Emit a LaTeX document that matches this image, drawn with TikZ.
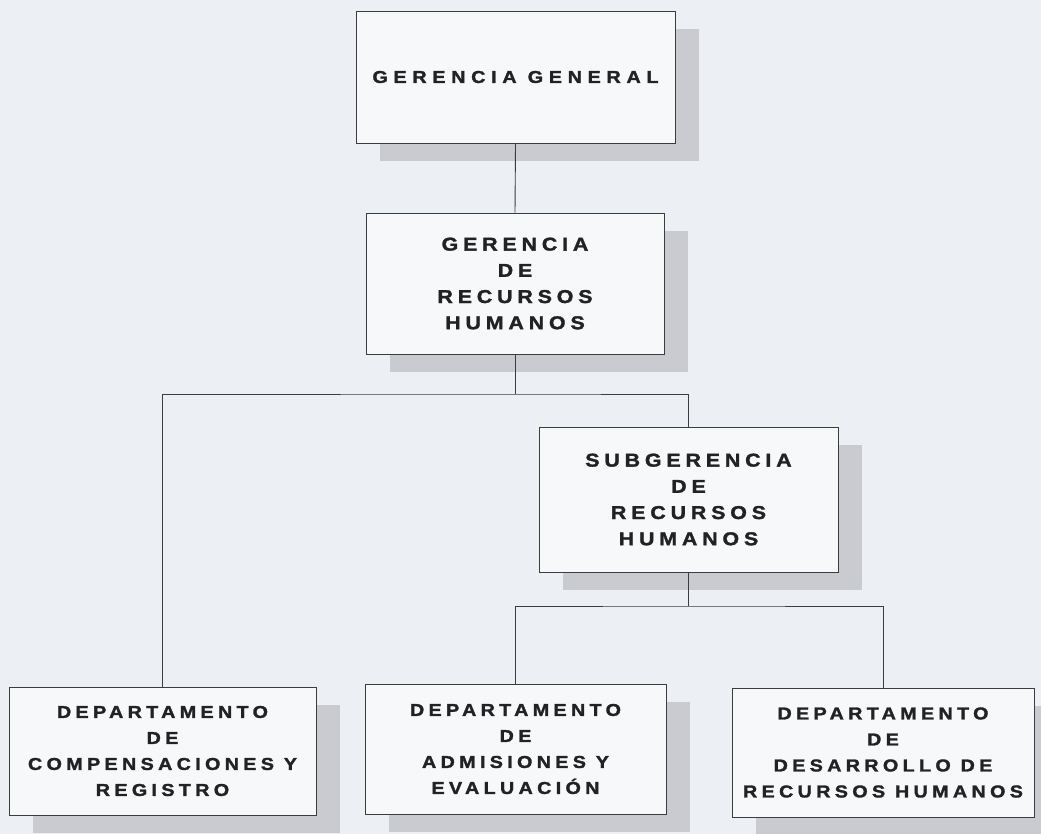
\documentclass[tikz,border=0pt]{standalone}
\usepackage{fontspec}
\setmainfont{Liberation Sans}
\newfontfamily\midfont{Liberation Sans}[LetterSpace=26, FakeStretch=1.15, BoldFeatures={FakeBold=1.6}]
\newfontfamily\lowfont{Liberation Sans}[LetterSpace=25, FakeStretch=1.15, BoldFeatures={FakeBold=1.6}]
\newfontfamily\topfont{Liberation Sans}[LetterSpace=33, FakeStretch=1.15, BoldFeatures={FakeBold=1.6}]
\usetikzlibrary{shadows}
\definecolor{bgc}{RGB}{236,239,244}
\definecolor{boxc}{RGB}{247,248,250}
\definecolor{shadowc}{RGB}{201,203,208}
\definecolor{linec}{RGB}{60,60,60}
\definecolor{textc}{RGB}{32,34,36}
\tikzset{
  orgbox/.style={draw=linec, line width=0.9pt, fill=boxc, rectangle, inner sep=0pt,
    align=center, text=textc, font=\lowfont\bfseries\fontsize{17.2}{26}\selectfont,
    drop shadow={shadow xshift=24pt, shadow yshift=-18pt, fill=shadowc, opacity=1}},
  midtext/.style={font=\midfont\bfseries\fontsize{18.6}{26.2}\selectfont},
  toptext/.style={font=\topfont\bfseries\fontsize{17.2}{26}\selectfont},
  conn/.style={draw=linec, line width=0.9pt}
}
\begin{document}
\begin{tikzpicture}[x=1pt,y=-1pt]
\fill[bgc] (0,0) rectangle (1041,834);
\useasboundingbox (0,0) rectangle (1041,834);
\node[orgbox, toptext, minimum width=319pt, minimum height=132pt] (b1) at (515.5,77) {GERENCIA GENERAL};
\node[orgbox, midtext, minimum width=298pt, minimum height=141pt] (b2) at (515,283.5) {GERENCIA\\DE\\RECURSOS\\HUMANOS};
\node[orgbox, midtext, minimum width=299pt, minimum height=145pt] (b3) at (688.5,499.5) {SUBGERENCIA\\DE\\RECURSOS\\HUMANOS};
\node[orgbox, minimum width=307pt, minimum height=128pt] (b4) at (162.5,751) {DEPARTAMENTO\\DE\\COMPENSACIONES Y\\REGISTRO};
\node[orgbox, minimum width=301pt, minimum height=130pt] (b5) at (515.5,749) {DEPARTAMENTO\\DE\\ADMISIONES Y\\EVALUACIÓN};
\node[orgbox, minimum width=302pt, minimum height=129pt] (b6) at (883,752.5) {DEPARTAMENTO\\DE\\DESARROLLO DE\\RECURSOS HUMANOS};
\coordinate (j1) at (515,394);
\coordinate (j2) at (688.5,606);
\draw[conn] (b1.south) -- (b2.north);
\draw[conn] (b2.south) -- (j1);
\draw[conn] (b4.north) |- (j1) -| (b3.north);
\draw[conn] (b3.south) -- (j2);
\draw[conn] (b5.north) |- (j2) -| (b6.north);
\end{tikzpicture}
\end{document}
